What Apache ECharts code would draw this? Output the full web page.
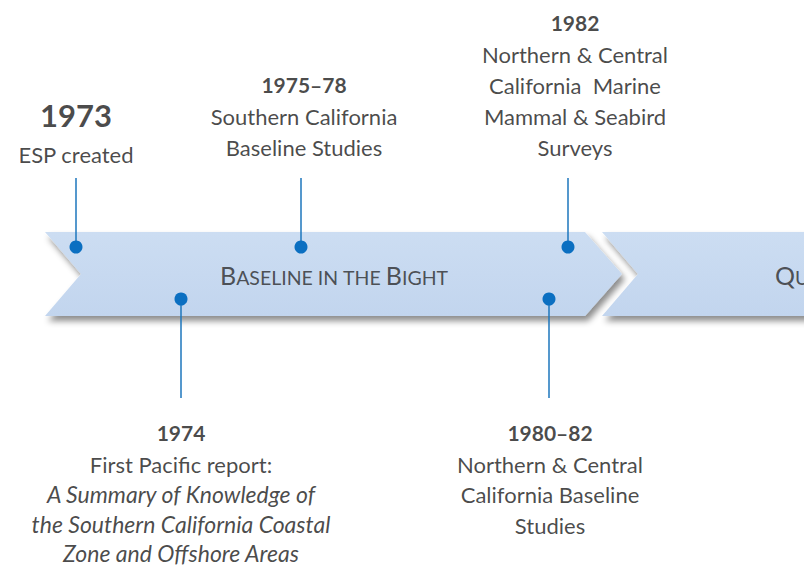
<!DOCTYPE html>
<html><head><meta charset="utf-8">
<script src="https://cdn.jsdelivr.net/npm/echarts@6/dist/echarts.min.js"></script>
<style>html,body{margin:0;padding:0;background:#fff}#c{width:804px;height:567px}</style>
</head><body><div id="c"></div>
<script>
// ---- data ----
const eventYears = ['1973', '1974', '1975–78', '1980–82', '1982'];
const eventTexts = [
  ['ESP created'],
  ['First Pacific report:', '*A Summary of Knowledge of', '*the Southern California Coastal', '*Zone and Offshore Areas'],
  ['Southern California', 'Baseline Studies'],
  ['Northern & Central', 'California Baseline', 'Studies'],
  ['Northern & Central', 'California  Marine', 'Mammal & Seabird', 'Surveys']
];
const eventPos = [76, 181, 301, 549, 568];       // position along the timeline
const eventSide = ['top', 'bottom', 'top', 'bottom', 'top'];
const eraNames = ['Baseline in the Bight', 'Quality'];
const eraStart = [45, 602];
const eraEnd = [622, 1000];

// ---- layout constants ----
const BAND_TOP = 232, BAND_BOT = 316, BAND_MID = 274;
const DOT_TOP = 247, DOT_BOT = 299;
const LINE_TOP_END = 178, LINE_BOT_END = 398;
const FONT = 'Lato, "Open Sans", sans-serif';
const INK = '#1a1a1a';
const LABEL_SHIFT = [0, 0, 3, 1, 7];   // horizontal nudge of text blocks (px)

function smallCaps(s) {
  return s.split(' ').map(w => {
    const first = w[0];
    const isCap = first === first.toUpperCase();
    return (isCap ? '{c|' + first + '}{s|' + w.slice(1).toUpperCase() + '}' : '{s|' + w.toUpperCase() + '}');
  }).join('{s| }');
}

const bandData = eraStart.map((s, i) => [s, eraEnd[i], eraNames[i]]);

const dotData = eventPos.map((x, i) => [x, eventSide[i] === 'top' ? DOT_TOP : DOT_BOT]);
const lineData = eventPos.map((x, i) => ({
  coords: eventSide[i] === 'top' ? [[x, LINE_TOP_END], [x, DOT_TOP]] : [[x, DOT_BOT], [x, LINE_BOT_END]]
}));

const labelData = eventPos.map((x, i) => {
  const top = eventSide[i] === 'top';
  const big = i === 0;
  const lines = eventTexts[i].map(t => t[0] === '*' ? '{it|' + t.slice(1) + '}' : (top ? '{t|' : '{tb|') + t + '}');
  const text = (big ? '{yb|' + eventYears[i] + '}' : '{y|' + eventYears[i] + '}') + '\n' + lines.join('\n');
  return {
    value: [x, top ? LINE_TOP_END : LINE_BOT_END],
    label: {
      show: true,
      position: top ? 'top' : 'bottom',
      distance: top ? (big ? 8 : 15) : 18,
      offset: [LABEL_SHIFT[i], 0],
      formatter: text,
      align: 'center'
    }
  };
});

const eraLabelData = [
  { value: [334, BAND_MID + 1], label: { position: 'inside', align: 'center' } },
  { value: [775, BAND_MID + 1], label: { position: 'right', distance: 0, align: 'left' } }
];

const chart = echarts.init(document.getElementById('c'), null, { renderer: 'svg' });
chart.setOption({
  animation: false,
  grid: { left: 0, right: 0, top: 0, bottom: 0 },
  xAxis: { type: 'value', min: 0, max: 804, show: false },
  yAxis: { type: 'value', min: 0, max: 567, inverse: true, show: false },
  series: [
    {
      type: 'custom',
      data: bandData,
      z: 1,
      renderItem: function (params, api) {
        const x0 = api.value(0), x1 = api.value(1);
        const pts = [[x0, BAND_TOP], [x1 - 37, BAND_TOP], [x1, BAND_MID], [x1 - 37, BAND_BOT], [x0, BAND_BOT], [x0 + 36, BAND_MID]]
          .map(p => api.coord(p));
        return {
          type: 'polygon',
          shape: { points: pts },
          style: {
            fill: new echarts.graphic.LinearGradient(0, 0, 0, 1, [
              { offset: 0, color: '#CCDDF2' }, { offset: 1, color: '#C2D5EE' }
            ]),
            shadowBlur: 6, shadowOffsetX: 3, shadowOffsetY: 5, shadowColor: 'rgba(0,0,0,0.45)'
          }
        };
      }
    },
    {
      type: 'scatter',
      data: eraLabelData,
      symbolSize: 0,
      z: 3,
      label: {
        show: true,
        formatter: p => smallCaps(eraNames[p.dataIndex]),
        rich: {
          c: { fontFamily: FONT, fontSize: 25, color: '#2b2b2b' },
          s: { fontFamily: FONT, fontSize: 19.5, color: '#2b2b2b', verticalAlign: 'bottom' }
        }
      }
    },
    {
      type: 'lines',
      coordinateSystem: 'cartesian2d',
      data: lineData,
      z: 4,
      lineStyle: { color: '#1C76BC', width: 1.5, opacity: 1 }
    },
    {
      type: 'scatter',
      data: dotData,
      symbolSize: 13,
      z: 5,
      itemStyle: { color: '#0B6FC1', opacity: 1 }
    },
    {
      type: 'scatter',
      data: labelData,
      symbolSize: 0,
      z: 6,
      label: {
        rich: {
          yb: { fontFamily: FONT, fontSize: 31, fontWeight: 'bold', color: INK, lineHeight: 48 },
          y: { fontFamily: FONT, fontSize: 21, fontWeight: 'bold', color: INK, lineHeight: 33 },
          t: { fontFamily: FONT, fontSize: 22, color: INK, lineHeight: 31 },
          tb: { fontFamily: FONT, fontSize: 22, color: INK, lineHeight: 30.5 },
          it: { fontFamily: FONT, fontSize: 23, fontStyle: 'italic', color: INK, lineHeight: 29.5 }
        }
      }
    }
  ]
});
</script></body></html>
